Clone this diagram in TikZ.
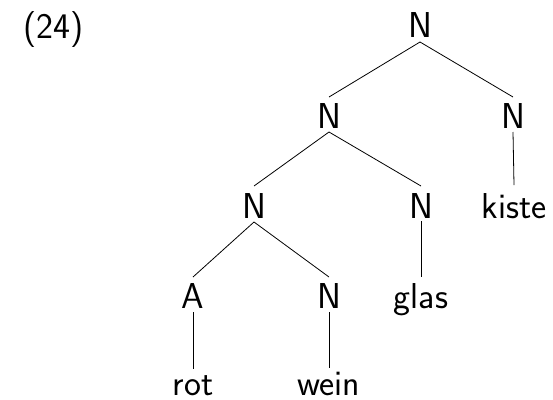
\documentclass[tikz,border=0pt]{standalone}
\usepackage{fontspec}
\begin{document}
\begin{tikzpicture}[x=1pt,y=-1pt,
  lab/.style={anchor=base,inner sep=0pt,font=\fontsize{36}{43}\sffamily},
  edge/.style={line width=0.8pt}]
\useasboundingbox (0,0) rectangle (553,399);
\node[lab] (ex) at (53.5,38) {(24)};
\node[lab] (n0) at (420,37) {N};
\node[lab] (n1) at (329,128) {N};
\node[lab] (n2) at (513,128) {N};
\node[lab] (n3) at (254,218) {N};
\node[lab] (n4) at (421,218) {N};
\node[lab] (kiste) at (514,218) {kiste};
\node[lab] (a) at (193,308) {A};
\node[lab] (n5) at (329,308) {N};
\node[lab] (glas) at (421,308) {glas};
\node[lab] (rot) at (193,395) {rot};
\node[lab] (wein) at (329,395) {wein};
\draw[edge] ([yshift=-5pt]n0.base) -- ([yshift=31pt]n1.base);
\draw[edge] ([yshift=-5pt]n0.base) -- ([yshift=31pt]n2.base);
\draw[edge] ([yshift=-4pt]n1.base) -- ([yshift=32pt]n3.base);
\draw[edge] ([yshift=-4pt]n1.base) -- ([yshift=32pt]n4.base);
\draw[edge] ([yshift=-4pt]n2.base) -- ([yshift=33pt]kiste.base);
\draw[edge] ([yshift=-4pt]n3.base) -- ([yshift=31pt]a.base);
\draw[edge] ([yshift=-4pt]n3.base) -- ([yshift=31pt]n5.base);
\draw[edge] ([yshift=-3pt]n4.base) -- ([yshift=31pt]glas.base);
\draw[edge] ([yshift=-4pt]a.base) -- ([yshift=26pt]rot.base);
\draw[edge] ([yshift=-4pt]n5.base) -- ([yshift=27pt]wein.base);
\end{tikzpicture}
\end{document}
